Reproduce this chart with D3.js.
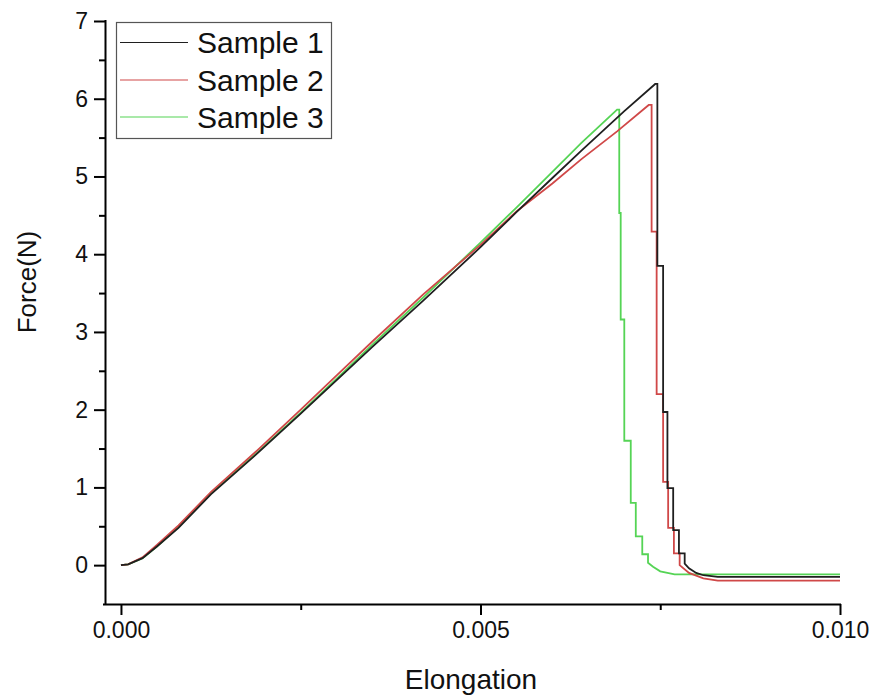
<!DOCTYPE html>
<html>
<head>
<meta charset="utf-8">
<script src="https://cdn.jsdelivr.net/npm/d3@7/dist/d3.min.js"></script>
<style>
  html, body { margin: 0; padding: 0; background: #fff; }
  svg { display: block; font-family: "Liberation Sans", Arial, sans-serif; }
</style>
</head>
<body>
<svg id="chart" width="876" height="696"></svg>
<script>
// ---- data (elongation, force) ----
const seriesNames = ["Sample 1", "Sample 2", "Sample 3"];
const seriesColors = ["#1f1f1f", "#d04848", "#55d455"];

const sample1 = [
  [0, 0], [0.0001, 0.01], [0.0003, 0.09], [0.0005, 0.24], [0.0008, 0.48],
  [0.00125, 0.91], [0.0019, 1.44], [0.0025, 1.95], [0.003, 2.38], [0.0035, 2.81],
  [0.0042, 3.40], [0.005, 4.09], [0.0055, 4.54], [0.006, 4.98], [0.0064, 5.33],
  [0.007, 5.84], [0.00743, 6.19], [0.00746, 6.19],
  [0.00746, 3.85], [0.00754, 3.85], [0.00754, 1.97], [0.0076, 1.97],
  [0.0076, 0.99], [0.00768, 0.99], [0.00768, 0.45], [0.00776, 0.45],
  [0.00776, 0.15], [0.00784, 0.15], [0.00784, 0.02], [0.0079, -0.04],
  [0.008, -0.1], [0.0081, -0.13], [0.0083, -0.15], [0.01, -0.15]
];
const sample2 = [
  [0, 0], [0.0001, 0.01], [0.0003, 0.1], [0.0005, 0.26], [0.0008, 0.51],
  [0.00125, 0.94], [0.0019, 1.48], [0.0025, 2.0], [0.003, 2.44], [0.0035, 2.88],
  [0.0042, 3.48], [0.005, 4.12], [0.0055, 4.55], [0.006, 4.91], [0.0064, 5.22],
  [0.0069, 5.58], [0.00734, 5.92], [0.00738, 5.92],
  [0.00738, 4.29], [0.00745, 4.29], [0.00745, 2.2], [0.00754, 2.2],
  [0.00754, 1.07], [0.00761, 1.07], [0.00761, 0.48], [0.00769, 0.48],
  [0.00769, 0.15], [0.00777, 0.15], [0.00777, 0.0], [0.0079, -0.1],
  [0.0081, -0.17], [0.0083, -0.2], [0.01, -0.2]
];
const sample3 = [
  [0, 0], [0.0001, 0.01], [0.0003, 0.09], [0.0005, 0.24], [0.0008, 0.49],
  [0.00125, 0.92], [0.0019, 1.45], [0.0025, 1.96], [0.003, 2.4], [0.0035, 2.84],
  [0.0042, 3.44], [0.005, 4.15], [0.0055, 4.6], [0.006, 5.06], [0.0064, 5.43],
  [0.0069, 5.86], [0.00693, 5.86],
  [0.00693, 4.53], [0.00695, 4.53], [0.00695, 3.16], [0.007, 3.16],
  [0.007, 1.6], [0.00709, 1.6], [0.00709, 0.8], [0.00716, 0.8],
  [0.00716, 0.37], [0.00725, 0.37], [0.00725, 0.14], [0.00733, 0.14],
  [0.00733, 0.03], [0.0074, -0.02], [0.0075, -0.08], [0.0077, -0.12], [0.01, -0.12]
];

const xMajorTicks = [0, 0.005, 0.010];
const xMajorLabels = ["0.000", "0.005", "0.010"];
const xMinorTicks = [0.0025, 0.0075];
const yMajorTicks = [0, 1, 2, 3, 4, 5, 6, 7];
const yMinorTicks = [0.5, 1.5, 2.5, 3.5, 4.5, 5.5, 6.5];

const xTitle = "Elongation";
const yTitle = "Force(N)";

// ---- drawing ----
const svg = d3.select("#chart");
const x = d3.scaleLinear().domain([-0.000222, 0.010]).range([105, 840]);
const y = d3.scaleLinear().domain([-0.5, 7]).range([604, 21]);

const line = d3.line().x(d => x(d[0])).y(d => y(d[1])).curve(d3.curveLinear);
const allSeries = [sample1, sample2, sample3];

const order = [2, 1, 0];
order.forEach(i => {
  svg.append("path")
    .datum(allSeries[i])
    .attr("d", line)
    .attr("fill", "none")
    .attr("stroke", seriesColors[i])
    .attr("stroke-width", 1.8)
    .attr("stroke-linejoin", "miter");
});

// axes
const fontTick = 23;
const xAxis = d3.axisBottom(x).tickValues(xMajorTicks)
  .tickFormat((d, i) => xMajorLabels[i]).tickSize(11).tickPadding(7);
const gx = svg.append("g").attr("transform", `translate(0,${y(-0.5)})`).call(xAxis);
gx.select(".domain").attr("d", `M${x.range()[0] - 2},0.5H${x.range()[1] + 1}`)
  .attr("stroke", "#000").attr("stroke-width", 2);
gx.selectAll(".tick line").attr("stroke", "#000").attr("stroke-width", 2);
gx.selectAll(".tick text").attr("font-size", fontTick).attr("fill", "#111")
  .attr("font-family", "Liberation Sans, Arial, sans-serif");
const xMinorAxis = d3.axisBottom(x).tickValues(xMinorTicks).tickFormat("").tickSize(6);
const gxm = svg.append("g").attr("transform", `translate(0,${y(-0.5)})`).call(xMinorAxis);
gxm.select(".domain").remove();
gxm.selectAll(".tick line").attr("stroke", "#000").attr("stroke-width", 2);

const yAxis = d3.axisLeft(y).tickValues(yMajorTicks).tickFormat(d3.format("d"))
  .tickSize(11).tickPadding(6);
const gy = svg.append("g").attr("transform", `translate(${x(-0.000222)},0)`).call(yAxis);
gy.select(".domain").attr("d", `M0.5,${y.range()[1] - 1}V${y.range()[0] + 1}`)
  .attr("stroke", "#000").attr("stroke-width", 2);
gy.selectAll(".tick line").attr("stroke", "#000").attr("stroke-width", 2);
gy.selectAll(".tick text").attr("font-size", fontTick).attr("fill", "#111")
  .attr("font-family", "Liberation Sans, Arial, sans-serif");
const yMinorAxis = d3.axisLeft(y).tickValues(yMinorTicks).tickFormat("").tickSize(6);
const gym = svg.append("g").attr("transform", `translate(${x(-0.000222)},0)`).call(yMinorAxis);
gym.select(".domain").remove();
gym.selectAll(".tick line").attr("stroke", "#000").attr("stroke-width", 2);

// axis titles
svg.append("text").attr("x", 471).attr("y", 689).attr("text-anchor", "middle")
  .attr("font-size", 28).attr("fill", "#111").text(xTitle);
svg.append("text").attr("transform", "translate(36,282) rotate(-90)")
  .attr("text-anchor", "middle").attr("font-size", 26).attr("fill", "#111").text(yTitle);

// legend
const lg = svg.append("g");
lg.append("rect").attr("x", 116.5).attr("y", 22.5).attr("width", 215).attr("height", 116)
  .attr("fill", "#fff").attr("stroke", "#555").attr("stroke-width", 1.2);
const rowY = [42.5, 80, 117];
seriesNames.forEach((name, i) => {
  lg.append("line").attr("x1", 120).attr("x2", 188).attr("y1", rowY[i]).attr("y2", rowY[i])
    .attr("stroke", seriesColors[i]).attr("stroke-width", 1.2);
  lg.append("text").attr("x", 197).attr("y", rowY[i] + 10.5)
    .attr("font-size", 30).attr("fill", "#111").text(name);
});
</script>
</body>
</html>
